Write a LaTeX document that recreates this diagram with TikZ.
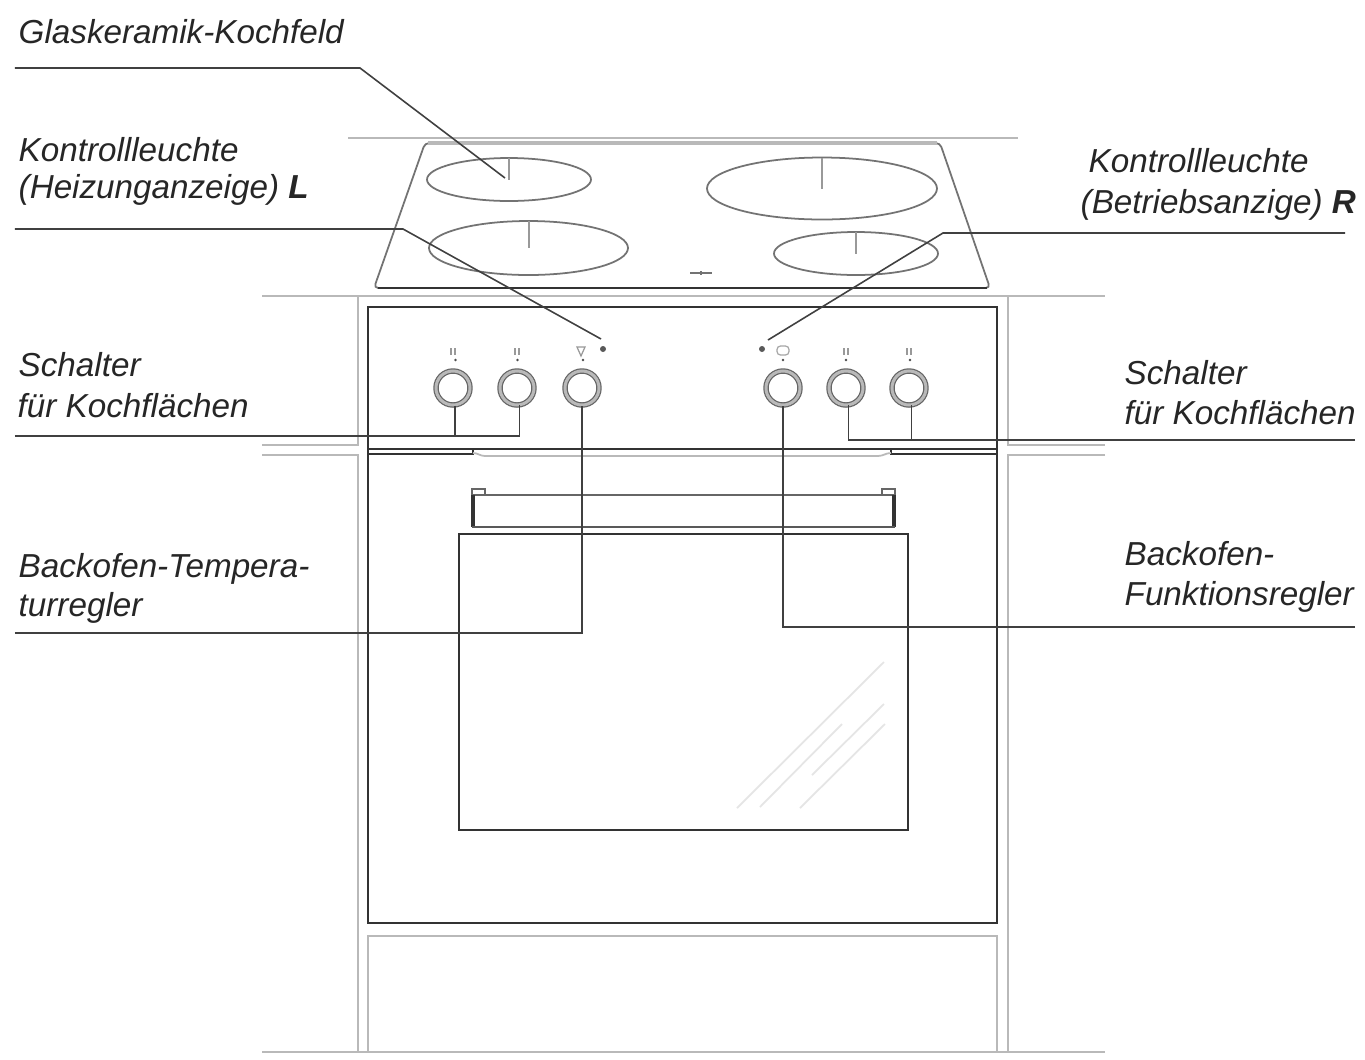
\documentclass[tikz,border=0pt]{standalone}
\usepackage{fontspec}
\setmainfont{Liberation Sans}
\tikzset{
    unit/.style={gray!55, line width=0.5pt},
    oven/.style={black!80, line width=0.6pt},
    zone/.style={black!55, line width=0.5pt},
    glass/.style={gray!20, line width=0.5pt},
    leader/.style={black!75, line width=0.45pt},
    lbl/.style={anchor=base west, inner sep=0pt, black!85, font=\fontsize{9.45}{11}\selectfont\itshape},
    knob/.style={circle, minimum size=0.34cm, inner sep=0pt, draw=black!60, double=gray!55, double distance=0.85pt, line width=0.35pt},
}
\begin{document}
\begin{tikzpicture}[x=0.01cm, y=-0.01cm]
    \useasboundingbox (0,0) rectangle (1365,1060);
    \fill[white] (0,0) rectangle (1365,1060);

    % Kitchen units
    \draw[unit] (348,138) -- (1018,138);
    \draw[unit] (262,296) -- (1105,296);
    \draw[unit] (358,296) -- (358,445) -- (262,445);
    \draw[unit] (1008,296) -- (1008,445) -- (1105,445);
    \draw[unit] (262,455) -- (358,455) -- (358,1052);
    \draw[unit] (1105,455) -- (1008,455) -- (1008,1052);
    \draw[unit] (262,1052) -- (1105,1052);
    \draw[unit] (368,1052) -- (368,936) -- (997,936) -- (997,1052);

    % Hob
    \draw[zone, rounded corners=1.2pt] (425,143) -- (940,143) -- (990,288) -- (374,288) -- cycle;
    \draw[unit, line width=1pt] (428,143) -- (937,143);
    \draw[oven, line width=0.5pt] (378,288) -- (987,288);
    \foreach \x/\y/\rx/\ry in {509/179.5/82/21.5, 528.5/248/99.5/27, 822/188.5/115/31, 856/253.5/82/21.5}
        \draw[zone] (\x,\y) ellipse [x radius=\rx, y radius=\ry];
    \foreach \x/\t/\b in {509/158/180, 529/221/248, 822/158/189, 856/232/254}
        \draw[gray!80, line width=0.5pt] (\x,\t) -- (\x,\b);
    \draw[zone] (690,273) -- (712,273);
    \draw[zone] (701,271) -- (701,275);

    % Oven body
    \draw[oven] (368,307) rectangle (997,923);
    \draw[oven] (368,449) -- (997,449);
    \draw[oven] (368,454) -- (473,454) -- (473,449);
    \draw[oven] (997,454) -- (891,454) -- (891,449);
    \draw[unit] (473,453) to[out=0,in=180] (485,456) -- (878,456) to[out=0,in=180] (891,453);

    % Handle and door
    \draw[oven, black!60, line width=0.7pt] (472,495) -- (895,495);
    \draw[oven, black!60] (472,495) -- (472,489) -- (485,489) -- (485,495);
    \draw[oven, black!60] (882,495) -- (882,489) -- (895,489) -- (895,495);
    \draw[oven, line width=1pt] (473,495) -- (473,527);
    \draw[oven, line width=1pt] (894,495) -- (894,527);
    \draw[oven, black!65, line width=0.8pt] (472,527) -- (895,527);
    \draw[oven] (459,534) rectangle (908,830);
    \draw[glass] (737,808) -- (884,662);
    \draw[glass] (760,807) -- (842,724);
    \draw[glass] (812,775) -- (884,704);
    \draw[glass] (800,808) -- (885,724);

    % Knobs
    \foreach \n/\x in {knobA/453, knobB/517, knobC/582, knobD/783, knobE/846, knobF/909}
        \node[knob] (\n) at (\x,388) {};
    \foreach \x in {455.5,517.5,583,783,846,910}
        \fill[black!70] (\x,360) circle [radius=1.3];
    % Zone symbols
    \foreach \x in {453,517,846,909} {
        \draw[gray!80, line width=0.35pt] (\x-2,348) -- (\x-2,355);
        \draw[gray!80, line width=0.35pt] (\x+2,348) -- (\x+2,355);
    }
    \draw[gray!80, line width=0.35pt] (577,347) -- (585,347) -- (581,356) -- cycle;
    \draw[gray!70, line width=0.35pt, rounded corners=1pt] (777,346) rectangle (789,355);

    % Lamps
    \fill[black!65] (603,349) circle [radius=3];
    \fill[black!65] (762,349) circle [radius=3];

    % Labels
    \node[lbl] (hob) at (18,43) {Glaskeramik-Kochfeld};
    \node[lbl] (lampLa) at (18,161) {Kontrollleuchte};
    \node[lbl] (lampLb) at (18,198) {(Heizunganzeige) \textbf{L}};
    \node[lbl] (lampRa) at (1088,172) {Kontrollleuchte};
    \node[lbl] (lampRb) at (1080,213) {(Betriebsanzige) \textbf{R}};
    \node[lbl] (swLa) at (18,376) {Schalter};
    \node[lbl] (swLb) at (17,417) {für Kochflächen};
    \node[lbl] (swRa) at (1124,384) {Schalter};
    \node[lbl] (swRb) at (1124,424) {für Kochflächen};
    \node[lbl] (tempa) at (18,577) {Backofen-Tempera-};
    \node[lbl] (tempb) at (18,616) {turregler};
    \node[lbl] (funca) at (1124,565) {Backofen-};
    \node[lbl] (funcb) at (1124,605) {Funktionsregler};

    % Leader lines
    \coordinate (hobEnd) at (15,68);
    \coordinate (hobTip) at (505,178);
    \coordinate (lampLEnd) at (15,229);
    \coordinate (lampLTip) at (601,339);
    \coordinate (lampREnd) at (1345,233);
    \coordinate (lampRTip) at (768,340);
    \coordinate (swLEnd) at (15,436);
    \coordinate (swREnd) at (1355,440);
    \coordinate (tempEnd) at (15,633);
    \coordinate (funcEnd) at (1355,627);
    \draw[leader] (hobEnd) -- (360,68) -- (hobTip);
    \draw[leader] (lampLEnd) -- (403,229) -- (lampLTip);
    \draw[leader] (lampREnd) -- (943,233) -- (lampRTip);
    \draw[leader] (swLEnd) -| (knobB.-82);
    \draw[leader] (knobA.-84) -- (knobA.-84 |- swLEnd);
    \draw[leader] (swREnd) -| (knobE.-82);
    \draw[leader] (knobF.-82) -- (knobF.-82 |- swREnd);
    \draw[leader] (tempEnd) -| (knobC.south);
    \draw[leader] (funcEnd) -| (knobD.south);
\end{tikzpicture}
\end{document}
